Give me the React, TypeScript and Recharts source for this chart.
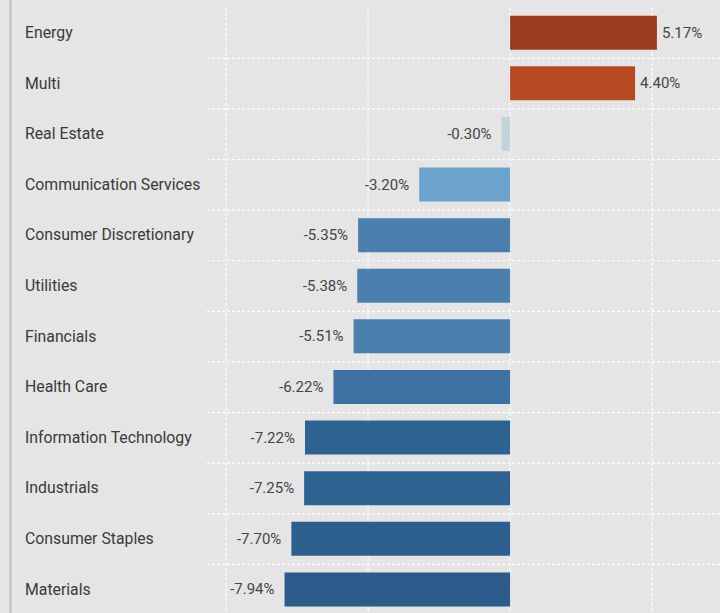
import React from "react";
import { BarChart, Bar, XAxis, YAxis, CartesianGrid, Cell, LabelList } from "recharts";

const categories = [
  "Energy",
  "Multi",
  "Real Estate",
  "Communication Services",
  "Consumer Discretionary",
  "Utilities",
  "Financials",
  "Health Care",
  "Information Technology",
  "Industrials",
  "Consumer Staples",
  "Materials",
];

const returns = [5.17, 4.4, -0.3, -3.2, -5.35, -5.38, -5.51, -6.22, -7.22, -7.25, -7.7, -7.94];

const xTicks = [-10, -5, 0, 5];

const barColors = [
  "#9e3c22",
  "#b54a23",
  "#c2d3d9",
  "#6ca3cd",
  "#4a7fae",
  "#4a7fae",
  "#4a7fae",
  "#3e72a3",
  "#2e6291",
  "#2e6291",
  "#2d5f8e",
  "#2d5b8b",
];

const data = categories.map((name, i) => ({ name, value: returns[i] }));

const FONT = "Roboto, 'Open Sans', sans-serif";

const CategoryTick = (props: any) => {
  const { y, payload } = props;
  return (
    <text x={25} y={y} dy={5} textAnchor="start" fill="#3a3a3a" fontSize={15.8} fontFamily={FONT}>
      {payload.value}
    </text>
  );
};

const ValueLabel = (props: any) => {
  const { x, y, width, height, value } = props;
  const left = Math.min(x, x + width);
  const right = Math.max(x, x + width);
  const cy = y + height / 2;
  const txt = `${Number(value).toFixed(2)}%`;
  if (value >= 0) {
    return (
      <text x={right + 5} y={cy} dy={5} textAnchor="start" fill="#444" fontSize={15} fontFamily={FONT}>
        {txt}
      </text>
    );
  }
  return (
    <text x={left - 10} y={cy} dy={5} textAnchor="end" fill="#444" fontSize={15} fontFamily={FONT}>
      {txt}
    </text>
  );
};

export default function App() {
  const rows = categories.length;
  return (
    <div
      style={{
        position: "fixed",
        top: 0,
        left: 0,
        width: 720,
        height: 613,
        overflow: "hidden",
        background: "#e5e5e5",
      }}
    >
      <div style={{ position: "absolute", left: 9, top: 0, width: 3, height: 613, background: "#cbcbcb" }} />
      <BarChart
        width={720}
        height={615}
        data={data}
        layout="vertical"
        margin={{ top: 7.7, right: 0, bottom: 0, left: 0 }}
        barCategoryGap={0}
      >
        <CartesianGrid
          stroke="#ffffff"
          strokeDasharray="3 2"
          strokeWidth={1.2}
          horizontalCoordinatesGenerator={({ offset }: any) => {
            const out: number[] = [];
            for (let i = 1; i < rows; i++) out.push(offset.top + (i * offset.height) / rows);
            return out;
          }}
          verticalCoordinatesGenerator={({ offset }: any) => {
            const lo = -10.67;
            const hi = 7.39;
            return xTicks.map((t) => offset.left + ((t - lo) / (hi - lo)) * offset.width);
          }}
        />
        <XAxis type="number" domain={[-10.67, 7.39]} ticks={xTicks} hide allowDataOverflow />
        <YAxis
          type="category"
          dataKey="name"
          width={207}
          axisLine={false}
          tickLine={false}
          tick={<CategoryTick />}
          interval={0}
        />
        <Bar dataKey="value" barSize={34} isAnimationActive={false}>
          {data.map((d, i) => (
            <Cell key={d.name} fill={barColors[i]} />
          ))}
          <LabelList dataKey="value" content={<ValueLabel />} />
        </Bar>
      </BarChart>
    </div>
  );
}
